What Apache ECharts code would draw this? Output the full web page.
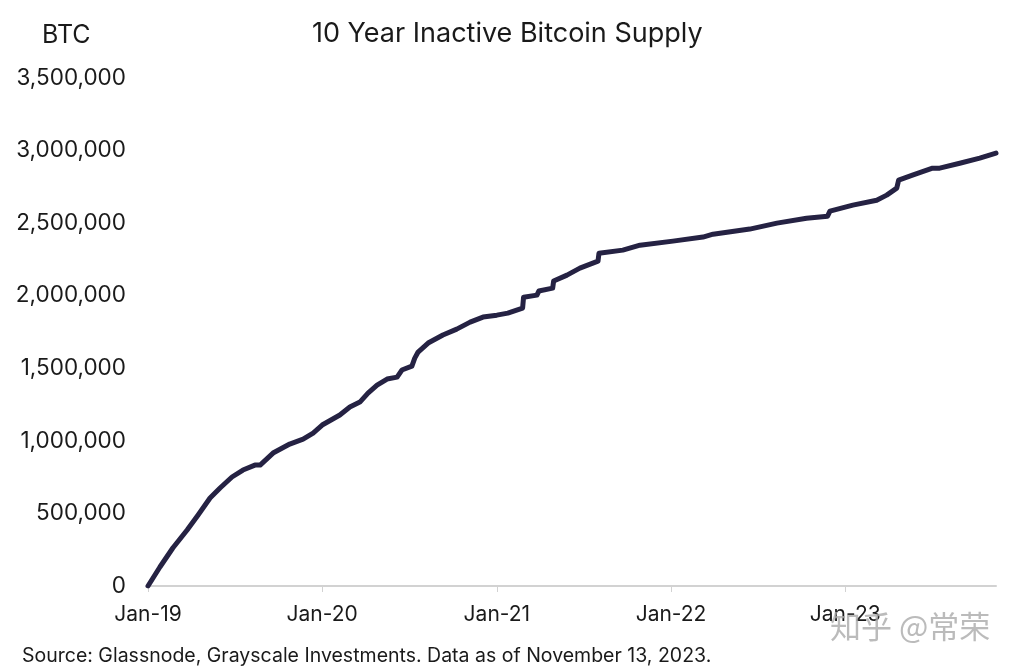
<!DOCTYPE html>
<html lang="en">
<head>
    <meta charset="UTF-8">
    <title>10 Year Inactive Bitcoin Supply</title>
    <style>
        html,body{ margin:0; padding:0; background:#fff }
        #main{ width:1015px; height:671px }
    </style>
</head>
<body>
    <div id="main"></div>
    <script src="https://cdn.jsdelivr.net/npm/echarts@6/dist/echarts.min.js"></script>
    <script>
        // values
        var dates = [
            '2019-01-01','2019-01-26','2019-02-22','2019-03-24','2019-04-16','2019-05-11','2019-06-01','2019-06-26',
            '2019-07-19','2019-08-13','2019-08-24','2019-09-20','2019-10-25','2019-11-22','2019-12-13','2020-01-01',
            '2020-02-07','2020-02-28','2020-03-20','2020-04-06','2020-04-25','2020-05-16','2020-06-06','2020-06-16',
            '2020-07-07','2020-07-13','2020-07-20','2020-08-10','2020-09-10','2020-10-09','2020-11-06','2020-12-03',
            '2021-01-01','2021-01-24','2021-02-24','2021-02-26','2021-03-26','2021-03-30','2021-04-28','2021-04-30',
            '2021-05-28','2021-06-24','2021-08-01','2021-08-03','2021-09-22','2021-10-28','2022-01-05','2022-03-09',
            '2022-03-30','2022-06-15','2022-08-11','2022-10-12','2022-11-25','2022-11-30','2023-01-17','2023-03-08',
            '2023-03-29','2023-04-19','2023-04-23','2023-05-22','2023-07-03','2023-07-18','2023-08-29','2023-10-10',
            '2023-11-13'
        ];
        var supply = [
            0,131000,262000,386000,489000,606000,675000,751000,
            799000,833000,833000,916000,978000,1012000,1054000,1109000,
            1178000,1233000,1267000,1329000,1384000,1426000,1439000,1488000,
            1515000,1570000,1612000,1674000,1729000,1770000,1818000,1853000,
            1866000,1880000,1915000,1990000,2004000,2032000,2052000,2101000,
            2142000,2190000,2238000,2293000,2314000,2348000,2376000,2404000,
            2424000,2459000,2500000,2534000,2548000,2583000,2624000,2658000,
            2693000,2741000,2796000,2831000,2879000,2879000,2913000,2948000,
            2982000
        ];
        var xTicks = ['2019-01-01','2020-01-01','2021-01-01','2022-01-01','2023-01-01'];
        var months = ['Jan','Feb','Mar','Apr','May','Jun','Jul','Aug','Sep','Oct','Nov','Dec'];

        var fontName = 'Inter';
        function stamp(d){ return Date.parse(d+'T00:00:00Z'); }
        var tickStamps = xTicks.map(stamp);
        var lineData = dates.map(function(d,i){ return [stamp(d),supply[i]]; });

        var myChart = echarts.init(document.getElementById('main'));
        var option = {
            backgroundColor:'#fff',
            animation:false,
            title:[
                {
                    text:'10 Year Inactive Bitcoin Supply',
                    left:307,
                    top:15,
                    textStyle:{ fontFamily:fontName, fontSize:27, fontWeight:'normal', color:'#1a1a1a' }
                },
                {
                    text:'BTC',
                    left:37,
                    top:18,
                    textStyle:{ fontFamily:fontName, fontSize:25, fontWeight:'normal', color:'#1a1a1a' }
                }
            ],
            grid:{ left:148, right:19, top:78, bottom:85 },
            xAxis:{
                type:'value',
                min:stamp('2019-01-01'),
                max:stamp('2023-11-13'),
                axisLine:{ lineStyle:{ color:'#d2d2d2', width:2 } },
                axisTick:{ show:true, customValues:tickStamps, length:6, lineStyle:{ color:'#d2d2d2', width:1 } },
                splitLine:{ show:false },
                axisLabel:{
                    customValues:tickStamps,
                    margin:18,
                    fontFamily:fontName,
                    fontSize:21,
                    color:'#1a1a1a',
                    formatter:function(v){
                        var d = new Date(v);
                        return months[d.getUTCMonth()]+'-'+String(d.getUTCFullYear()).slice(2);
                    }
                }
            },
            yAxis:{
                type:'value',
                min:0,
                max:3500000,
                interval:500000,
                axisLine:{ show:false },
                axisTick:{ show:false },
                splitLine:{ show:false },
                axisLabel:{
                    margin:22,
                    fontFamily:fontName,
                    fontSize:22.5,
                    color:'#1a1a1a',
                    formatter:function(v){ return v.toLocaleString('en-US'); }
                }
            },
            series:[
                {
                    type:'line',
                    data:lineData,
                    showSymbol:false,
                    smooth:false,
                    lineStyle:{ color:'#252243', width:5, cap:'round', join:'round' }
                }
            ],
            graphic:[
                {
                    type:'text',
                    left:22,
                    top:646,
                    style:{
                        text:'Source: Glassnode, Grayscale Investments. Data as of November 13, 2023.',
                        font:'19.5px '+fontName,
                        fill:'#1a1a1a'
                    }
                },
                {
                    type:'text',
                    left:830,
                    top:611,
                    z:10,
                    style:{
                        text:'知乎 @常荣',
                        font:'31px "Noto Sans CJK SC"',
                        fill:'rgba(170,170,170,0.8)'
                    }
                }
            ]
        };
        myChart.setOption(option);
    </script>
</body>
</html>
